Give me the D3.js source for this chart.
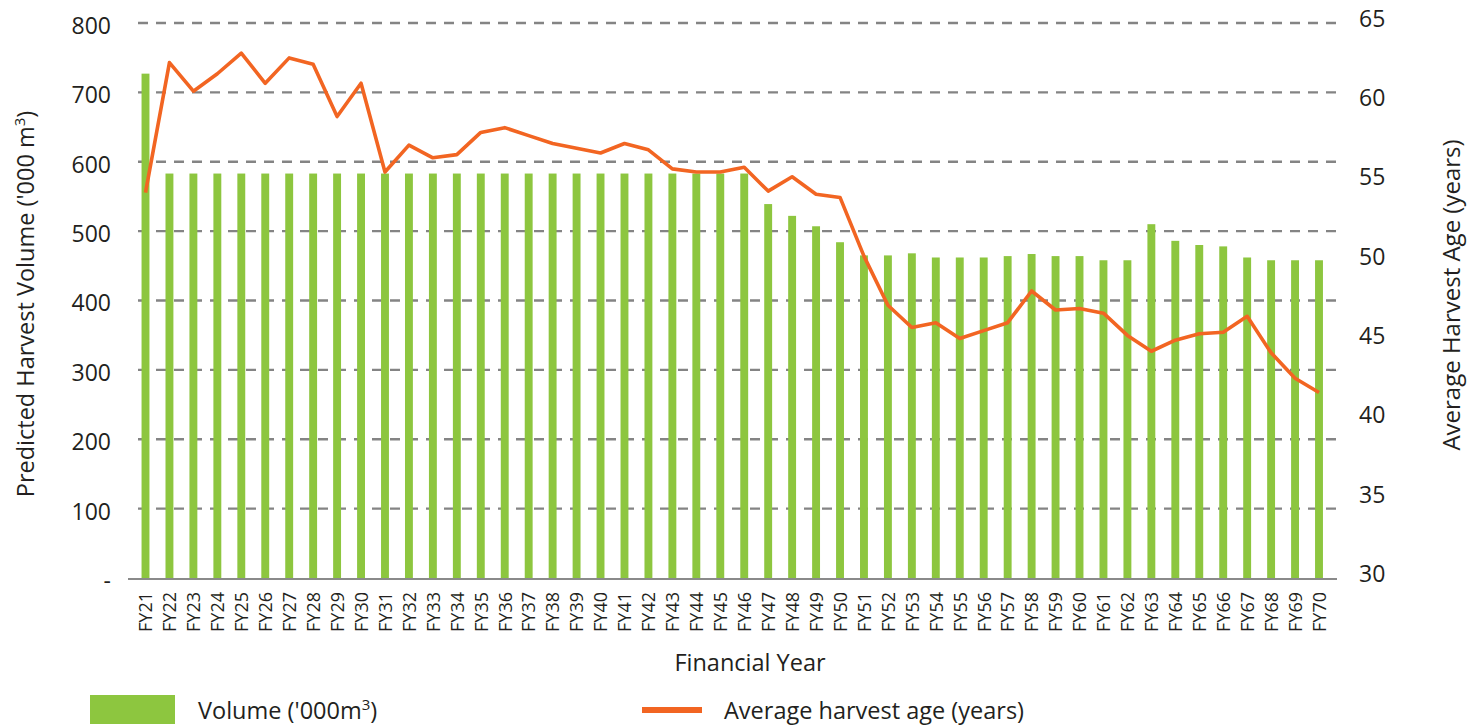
<!DOCTYPE html>
<html>
<head>
<meta charset="utf-8">
<script src="https://cdn.jsdelivr.net/npm/d3@7"></script>
<style>
  body { margin: 0; background: #fff; }
  text { font-family: "Open Sans", "Noto Sans", sans-serif; fill: #231f20; }
</style>
</head>
<body>
<script>
// financial years on the x axis
var years = [];
for (var y = 21; y <= 70; y++) years.push("FY" + y);

// predicted harvest volume ('000 m3)
var volume = [727, 583, 583, 583, 583, 583, 583, 583, 583, 583,
              583, 583, 583, 583, 583, 583, 583, 583, 583, 583,
              583, 583, 583, 583, 583, 583, 539, 522, 507, 484,
              465, 465, 468, 462, 462, 462, 464, 467, 464, 464,
              458, 458, 510, 486, 480, 478, 462, 458, 458, 458];

// average harvest age (years)
var age = [54.3, 62.5, 60.7, 61.8, 63.1, 61.2, 62.8, 62.4, 59.1, 61.2,
           55.6, 57.3, 56.5, 56.7, 58.1, 58.4, 57.9, 57.4, 57.1, 56.8,
           57.4, 57.0, 55.8, 55.6, 55.6, 55.9, 54.4, 55.3, 54.2, 54.0,
           50.3, 47.2, 45.8, 46.1, 45.1, 45.6, 46.1, 48.1, 46.9, 47.0,
           46.7, 45.3, 44.3, 45.0, 45.4, 45.5, 46.5, 44.2, 42.6, 41.7];

var leftTicks = [0, 100, 200, 300, 400, 500, 600, 700, 800];
var rightTicks = [30, 35, 40, 45, 50, 55, 60, 65];

var w = 1480, h = 727;
var plotTop = 23, plotBottom = 578;

var svg = d3.select("body").append("svg")
    .attr("width", w)
    .attr("height", h);

// scales
var x = d3.scalePoint().domain(years).range([145.5, 1319]);
var yL = d3.scaleLinear().domain([0, 800]).range([plotBottom, plotTop]);
var yR = d3.scaleLinear().domain([30, 65]).range([plotBottom, plotTop]);
var barW = x.step() * 0.33;

// dashed gridlines
svg.selectAll("line.grid")
    .data(leftTicks.slice(1))
    .enter()
    .append("line")
    .attr("class", "grid")
    .attr("x1", 138).attr("x2", 1337)
    .attr("y1", function(d) { return yL(d); })
    .attr("y2", function(d) { return yL(d); })
    .attr("stroke", "#848484")
    .attr("stroke-width", 2.4)
    .attr("stroke-dasharray", "10,8");

// bars
svg.selectAll("rect.bar")
    .data(volume)
    .enter()
    .append("rect")
    .attr("class", "bar")
    .attr("x", function(d, i) { return x(years[i]) - barW / 2; })
    .attr("y", function(d) { return yL(d); })
    .attr("width", barW)
    .attr("height", function(d) { return plotBottom - yL(d); })
    .attr("fill", "#8dc63f");

// baseline
svg.append("line")
    .attr("x1", 128).attr("x2", 1337)
    .attr("y1", plotBottom + 1).attr("y2", plotBottom + 1)
    .attr("stroke", "#8a8a8a")
    .attr("stroke-width", 2);

// age line
var line = d3.line()
    .x(function(d, i) { return x(years[i]); })
    .y(function(d) { return yR(d); });

svg.append("path")
    .datum(age)
    .attr("d", line)
    .attr("fill", "none")
    .attr("stroke", "#f26522")
    .attr("stroke-width", 3.6)
    .attr("stroke-linejoin", "round");

// left axis
var axL = d3.axisLeft(yL).tickValues(leftTicks).tickSize(0).tickPadding(0)
    .tickFormat(function(d) { return d === 0 ? "-" : d; });
var gL = svg.append("g").attr("transform", "translate(111,3)").call(axL);
gL.select(".domain").remove();
gL.selectAll("text").style("font-size", "23px").attr("fill", "#231f20");

// right axis (labels sit a little above the gridlines in the original)
var axR = d3.axisRight(yR).tickValues(rightTicks).tickSize(0).tickPadding(0);
var gR = svg.append("g").attr("transform", "translate(1359,-4)").call(axR);
gR.select(".domain").remove();
gR.selectAll("text").style("font-size", "23px").attr("fill", "#231f20");

// x axis labels
var axX = d3.axisBottom(x).tickSize(0).tickPadding(0);
var gX = svg.append("g").attr("transform", "translate(0," + plotBottom + ")").call(axX);
gX.select(".domain").remove();
gX.selectAll("text")
    .style("font-size", "18px")
    .attr("fill", "#231f20")
    .attr("transform", "rotate(-90)")
    .attr("text-anchor", "end")
    .attr("x", -14)
    .attr("y", 0)
    .attr("dy", "0.35em");

// axis titles
var ltitle = svg.append("text")
    .attr("transform", "translate(34,304) rotate(-90)")
    .attr("text-anchor", "middle")
    .style("font-size", "23.5px");
ltitle.append("tspan").text("Predicted Harvest Volume ('000 m");
ltitle.append("tspan").attr("dy", -9).style("font-size", "15px").text("3");
ltitle.append("tspan").attr("dy", 9).text(")");

svg.append("text")
    .attr("transform", "translate(1460,295) rotate(-90)")
    .attr("text-anchor", "middle")
    .style("font-size", "24px")
    .text("Average Harvest Age (years)");

svg.append("text")
    .attr("x", 750).attr("y", 671)
    .attr("text-anchor", "middle")
    .style("font-size", "23.5px")
    .text("Financial Year");

// legend
svg.append("rect")
    .attr("x", 90).attr("y", 695)
    .attr("width", 85).attr("height", 29)
    .attr("fill", "#8dc63f");
var lg1 = svg.append("text")
    .attr("x", 198).attr("y", 719)
    .style("font-size", "23.5px");
lg1.append("tspan").text("Volume ('000m");
lg1.append("tspan").attr("dy", -9).style("font-size", "15px").text("3");
lg1.append("tspan").attr("dy", 9).text(")");

svg.append("line")
    .attr("x1", 642).attr("x2", 702)
    .attr("y1", 710).attr("y2", 710)
    .attr("stroke", "#f26522")
    .attr("stroke-width", 6);
svg.append("text")
    .attr("x", 724).attr("y", 719)
    .style("font-size", "23.5px")
    .text("Average harvest age (years)");
</script>
</body>
</html>
